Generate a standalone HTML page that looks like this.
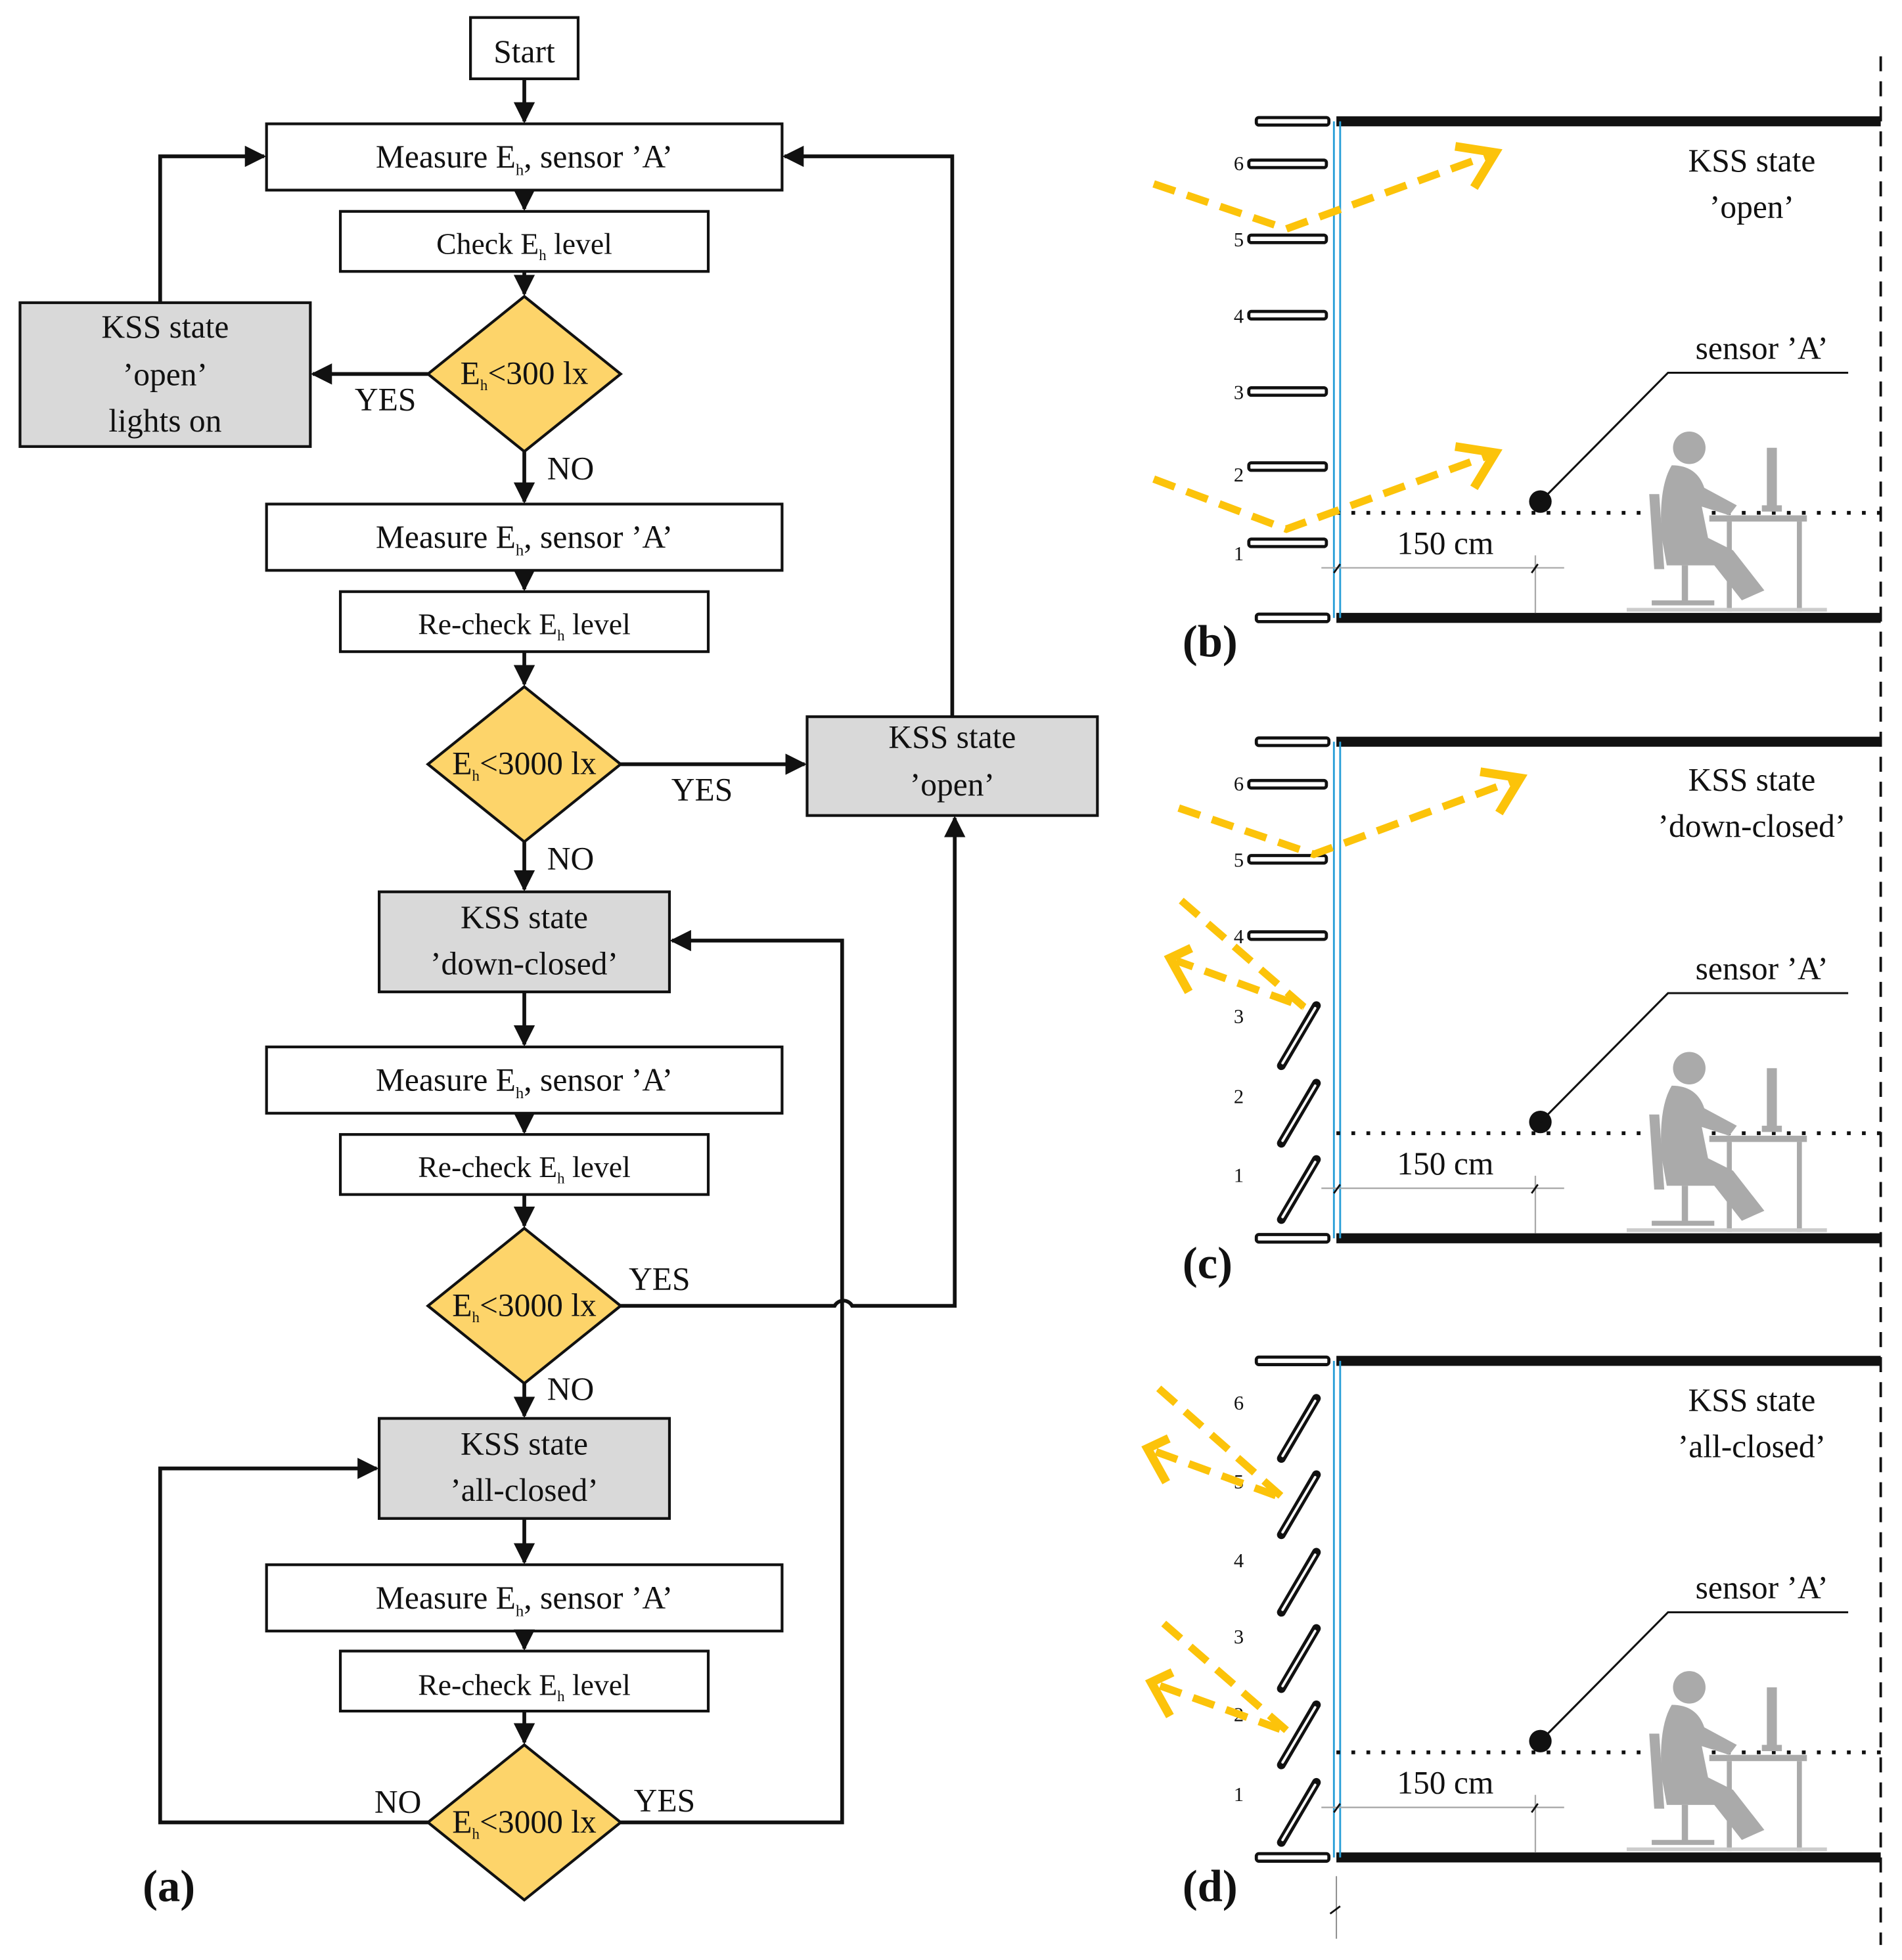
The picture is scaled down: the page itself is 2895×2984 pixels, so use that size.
<!DOCTYPE html>
<html><head><meta charset="utf-8"><style>
html,body{margin:0;padding:0;background:#fff}
svg{display:block}
svg text, svg tspan{font-family:"Liberation Serif","DejaVu Serif",serif !important;fill:#111}
</style></head><body>
<svg width="2895" height="2984" viewBox="0 0 1520 1567" preserveAspectRatio="none" xmlns="http://www.w3.org/2000/svg" font-family="Liberation Serif, serif">
<defs>
<marker id="ar" viewBox="0 0 10 10" refX="9" refY="5" markerWidth="17" markerHeight="17" markerUnits="userSpaceOnUse" orient="auto"><path d="M0,0L10,5L0,10z" fill="#111"/></marker>
<g id="person" fill="#aaa">
<circle cx="1350" cy="358" r="13"/>
<path d="M1336,372 Q1325,390 1328,430 L1332,452 L1370,452 L1392,480 L1410,472 L1385,440 L1365,430 L1360,405 L1382,412 L1388,404 L1362,390 Q1356,372 1336,372z"/>
<path d="M1318,395 L1326,395 L1330,455 L1322,455z"/>
<rect x="1344" y="452" width="5" height="30"/>
<rect x="1320" y="480" width="50" height="4"/>
<rect x="1366" y="412" width="78" height="5"/>
<rect x="1380" y="417" width="4" height="72"/>
<rect x="1436" y="417" width="4" height="72"/>
<rect x="1412" y="358" width="8" height="48"/>
<rect x="1408" y="404" width="16" height="5"/>
<rect x="1300" y="486" width="160" height="3" fill="#ccc"/>
</g>
</defs>

<g stroke="#111" stroke-width="2.2" fill="#fff">
<rect x="376" y="14" width="86" height="49"/>
<rect x="213" y="99" width="412" height="53"/>
<rect x="272" y="169" width="294" height="48"/>
<rect x="213" y="403" width="412" height="53"/>
<rect x="272" y="473" width="294" height="48"/>
<rect x="213" y="837" width="412" height="53"/>
<rect x="272" y="907" width="294" height="48"/>
<rect x="213" y="1251" width="412" height="53"/>
<rect x="272" y="1320" width="294" height="48"/>
<g fill="#d9d9d9">
<rect x="16" y="242" width="232" height="115"/>
<rect x="645" y="573" width="232" height="79"/>
<rect x="303" y="713" width="232" height="80"/>
<rect x="303" y="1134" width="232" height="80"/>
</g>
<g fill="#fdd46a">
<path d="M419,237L496,299L419,361L342,299z"/>
<path d="M419,549L496,611L419,673L342,611z"/>
<path d="M419,982L496,1044L419,1106L342,1044z"/>
<path d="M419,1395L496,1457L419,1519L342,1457z"/>
</g>
</g>
<g stroke="#111" stroke-width="3" fill="none" marker-end="url(#ar)">
<path d="M419,63V97"/><path d="M419,152V167"/><path d="M419,217V235"/>
<path d="M342,299H250"/><path d="M128,242V125H211"/>
<path d="M419,361V401"/><path d="M419,456V471"/><path d="M419,521V547"/>
<path d="M496,611H643"/><path d="M761,573V125H627"/>
<path d="M419,673V711"/><path d="M419,793V835"/><path d="M419,890V905"/><path d="M419,955V980"/>
<path d="M496,1044H667A8,8 0 0 1 681,1044H763V654"/>
<path d="M419,1106V1132"/><path d="M419,1214V1249"/><path d="M419,1304V1318"/><path d="M419,1368V1393"/>
<path d="M342,1457H128V1174H301"/>
<path d="M496,1457H673V752H537"/>
</g>
<g font-size="26" text-anchor="middle" font-family="Liberation Serif, serif">
<text x="419" y="50">Start</text>
<text x="419" y="134">Measure E<tspan font-size="13" dy="6">h</tspan><tspan dy="-6">, sensor ’A’</tspan></text>
<text x="419" y="203" font-size="24">Check E<tspan font-size="12" dy="5">h</tspan><tspan dy="-5"> level</tspan></text>
<text x="419" y="307">E<tspan font-size="12" dy="5">h</tspan><tspan dy="-5">&lt;300 lx</tspan></text>
<text x="132" y="270">KSS state</text><text x="132" y="308">’open’</text><text x="132" y="345">lights on</text>
<text x="308" y="328">YES</text><text x="456" y="383">NO</text>
<text x="419" y="438">Measure E<tspan font-size="13" dy="6">h</tspan><tspan dy="-6">, sensor ’A’</tspan></text>
<text x="419" y="507" font-size="24">Re-check E<tspan font-size="12" dy="5">h</tspan><tspan dy="-5"> level</tspan></text>
<text x="419" y="619">E<tspan font-size="12" dy="5">h</tspan><tspan dy="-5">&lt;3000 lx</tspan></text>
<text x="761" y="598">KSS state</text><text x="761" y="636">’open’</text>
<text x="561" y="640">YES</text><text x="456" y="695">NO</text>
<text x="419" y="742">KSS state</text><text x="419" y="779">’down-closed’</text>
<text x="419" y="872">Measure E<tspan font-size="13" dy="6">h</tspan><tspan dy="-6">, sensor ’A’</tspan></text>
<text x="419" y="941" font-size="24">Re-check E<tspan font-size="12" dy="5">h</tspan><tspan dy="-5"> level</tspan></text>
<text x="419" y="1052">E<tspan font-size="12" dy="5">h</tspan><tspan dy="-5">&lt;3000 lx</tspan></text>
<text x="527" y="1031">YES</text><text x="456" y="1119">NO</text>
<text x="419" y="1163">KSS state</text><text x="419" y="1200">’all-closed’</text>
<text x="419" y="1286">Measure E<tspan font-size="13" dy="6">h</tspan><tspan dy="-6">, sensor ’A’</tspan></text>
<text x="419" y="1355" font-size="24">Re-check E<tspan font-size="12" dy="5">h</tspan><tspan dy="-5"> level</tspan></text>
<text x="419" y="1465">E<tspan font-size="12" dy="5">h</tspan><tspan dy="-5">&lt;3000 lx</tspan></text>
<text x="318" y="1449">NO</text><text x="531" y="1448">YES</text>
</g>
<g font-size="36" font-weight="bold" text-anchor="middle" font-family="Liberation Serif, serif">
<text x="135" y="1520">(a)</text><text x="967" y="525">(b)</text><text x="965" y="1022">(c)</text><text x="967" y="1520">(d)</text>
</g>

<path d="M1503,45V1555" stroke="#111" stroke-width="2" stroke-dasharray="12,8"/>
<path d="M1068,1500V1550" stroke="#888" stroke-width="1"/>
<path d="M1063,1530l8,-6" stroke="#111" stroke-width="1.5"/>

<g id="pb">
<rect x="1068" y="93" width="435" height="8" fill="#111"/>
<rect x="1068" y="490" width="435" height="8" fill="#111"/>
<rect x="1004" y="94" width="58" height="6" rx="2" fill="#fff" stroke="#111" stroke-width="2.5"/>
<rect x="1004" y="491" width="58" height="6" rx="2" fill="#fff" stroke="#111" stroke-width="2.5"/>
<path d="M1066,97V494M1071,97V494" stroke="#2a9fd8" stroke-width="1.5"/>
<path d="M1068,410H1503" stroke="#111" stroke-width="3" stroke-dasharray="3,9"/>
<path d="M1056,454H1250M1227,444V490" stroke="#aaa" stroke-width="1.2"/>
<path d="M1066,458l5,-7M1224,458l5,-7" stroke="#111" stroke-width="1.5"/>
<text x="1155" y="443" font-size="26" text-anchor="middle" font-family="Liberation Serif, serif">150 cm</text>
<circle cx="1231" cy="401" r="9" fill="#111"/>
<path d="M1231,401L1333,298H1477" stroke="#111" stroke-width="1.6" fill="none"/>
<text x="1408" y="287" font-size="26" text-anchor="middle" font-family="Liberation Serif, serif">sensor ’A’</text>
<use href="#person"/>
</g>
<use href="#pb" y="496"/>
<use href="#pb" y="991"/>

<g font-size="26" text-anchor="middle" font-family="Liberation Serif, serif">
<text x="1400" y="137">KSS state</text><text x="1400" y="174">’open’</text>
<text x="1400" y="632">KSS state</text><text x="1400" y="669">’down-closed’</text>
<text x="1400" y="1128">KSS state</text><text x="1400" y="1165">’all-closed’</text>
</g>
<g font-size="16" text-anchor="middle" fill="#111" font-family="Liberation Serif, serif">
<text x="990" y="136">6</text><text x="990" y="197">5</text><text x="990" y="258">4</text><text x="990" y="319">3</text><text x="990" y="385">2</text><text x="990" y="448">1</text>
<text x="990" y="632">6</text><text x="990" y="693">5</text><text x="990" y="754">4</text><text x="990" y="818">3</text><text x="990" y="882">2</text><text x="990" y="945">1</text>
<text x="990" y="1127">6</text><text x="990" y="1190">5</text><text x="990" y="1253">4</text><text x="990" y="1314">3</text><text x="990" y="1376">2</text><text x="990" y="1440">1</text>
</g>
<g fill="#fff" stroke="#111" stroke-width="2.5">
<rect x="998" y="128" width="62" height="6" rx="2"/><rect x="998" y="188" width="62" height="6" rx="2"/><rect x="998" y="249" width="62" height="6" rx="2"/><rect x="998" y="310" width="62" height="6" rx="2"/><rect x="998" y="370" width="62" height="6" rx="2"/><rect x="998" y="431" width="62" height="6" rx="2"/>
<rect x="998" y="624" width="62" height="6" rx="2"/><rect x="998" y="684" width="62" height="6" rx="2"/><rect x="998" y="745" width="62" height="6" rx="2"/>
</g>
<g stroke="#111" stroke-width="7" stroke-linecap="round">
<path d="M1024,852L1052,804M1024,914L1052,866M1024,975L1052,927"/>
<path d="M1024,1166L1052,1118M1024,1227L1052,1179M1024,1289L1052,1241M1024,1350L1052,1302M1024,1411L1052,1363M1024,1473L1052,1425"/>
</g>
<g stroke="#fff" stroke-width="2" stroke-linecap="round">
<path d="M1025,850L1051,806M1025,912L1051,868M1025,973L1051,929"/>
<path d="M1025,1164L1051,1120M1025,1225L1051,1181M1025,1287L1051,1243M1025,1348L1051,1304M1025,1409L1051,1365M1025,1471L1051,1427"/>
</g>
<g stroke="#fcc30a" stroke-width="6" fill="none" stroke-dasharray="18,10">
<path d="M922,147L1028,183L1190,124"/>
<path d="M922,383L1028,423L1190,364"/>
<path d="M942,646L1050,683L1210,624"/>
<path d="M944,720L1042,805L940,768"/>
<path d="M926,1110L1026,1198L922,1160"/>
<path d="M930,1298L1030,1385L925,1347"/>
</g>
<g stroke="#fcc30a" stroke-width="7" fill="none">
<path d="M1163,117L1195,122L1178,150"/>
<path d="M1163,357L1195,362L1178,390"/>
<path d="M1183,617L1215,622L1198,650"/>
<path d="M952,758L935,766L950,793"/>
<path d="M934,1150L917,1158L932,1185"/>
<path d="M937,1337L920,1345L935,1372"/>
</g>
</svg>
</body></html>
